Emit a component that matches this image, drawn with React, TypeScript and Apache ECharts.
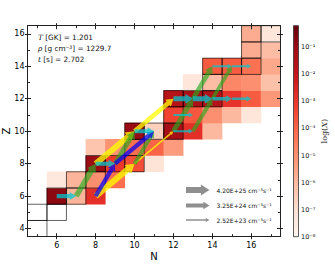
import React, { useEffect, useRef } from 'react';
import * as echarts from 'echarts';

// ---- data ----
// log10 of mass fraction X for each nucleus: [N, Z, log10 X]
const abundances: [number, number, number][] = [
  [6, 6, -0.8], [7, 6, -5.9], [8, 6, -2.8],
  [6, 7, -7.4], [7, 7, -5.9], [8, 7, -5.0], [9, 7, -4.2],
  [8, 8, -1.0], [9, 8, -3.0], [10, 8, -3.5], [11, 8, -7.2],
  [8, 9, -6.3], [9, 9, -5.1], [10, 9, -4.2], [11, 9, -4.0], [12, 9, -5.3],
  [10, 10, -1.0], [11, 10, -6.6], [12, 10, -1.2], [13, 10, -2.8], [14, 10, -6.0],
  [12, 11, -3.3], [13, 11, -3.7], [14, 11, -5.0], [15, 11, -6.0], [16, 11, -7.3],
  [12, 12, -1.6], [13, 12, -1.3], [14, 12, -1.5], [15, 12, -2.9], [16, 12, -3.8], [17, 12, -5.2],
  [13, 13, -7.3], [14, 13, -6.1], [15, 13, -4.8], [16, 13, -5.0], [17, 13, -6.2],
  [14, 14, -3.8], [15, 14, -3.8], [16, 14, -4.3], [17, 14, -5.6],
  [16, 15, -5.7], [17, 15, -6.1],
  [16, 16, -5.7], [17, 16, -7.3],
];

// stable nuclei [N, Z] (outlined)
const stableNuclei: [number, number][] = [
  [5, 4], [5, 5], [6, 5], [6, 6], [7, 6], [7, 7], [8, 7], [8, 8], [9, 8], [10, 8],
  [10, 9], [10, 10], [11, 10], [12, 10], [12, 11], [12, 12], [13, 12], [14, 12],
  [14, 13], [14, 14], [15, 14], [16, 14], [16, 15], [16, 16], [17, 16],
];

// reaction flows [N1, Z1, N2, Z2, flow (cm^-3 s^-1)]
const alphaGammaFlows: number[][] = [
  [8, 6, 10, 8, 4.0e25], [8, 8, 10, 10, 3.8e25], [10, 10, 12, 12, 7.5e24], [10, 8, 12, 10, 2.6e23],
];
const alphaNFlows: number[][] = [
  [7, 6, 8, 8, 2.2e25], [9, 8, 10, 10, 1.3e25], [10, 8, 11, 10, 4.3e24],
  [12, 10, 13, 12, 1.3e25], [13, 12, 14, 14, 7.5e24], [13, 10, 14, 12, 4.3e24], [14, 12, 15, 14, 2.5e24],
];
const blueFlows: number[][] = [
  [8, 6, 9, 8, 6.0e24], [9, 8, 11, 10, 6.0e24],
];
const nGammaFlows: number[][] = [
  [6, 6, 7, 6, 4.3e24], [8, 8, 9, 8, 4.3e24], [10, 10, 11, 10, 4.3e24],
  [12, 12, 13, 12, 1.3e25], [13, 12, 14, 12, 1.3e25], [14, 12, 15, 12, 2.5e24], [15, 12, 16, 12, 7.8e23],
  [14, 14, 15, 14, 4.4e23], [15, 14, 16, 14, 4.4e23], [12, 11, 13, 11, 4.4e23], [12, 10, 13, 10, 4.4e23],
];
const legendFlows = [4.2e25, 3.25e24, 2.52e23];

const temperatureGK = '1.201';
const densityGcm3 = '1229.7';
const timeS = '2.702';

const xMajorTicks = [6, 8, 10, 12, 14, 16];
const xMinorTicks = [5, 7, 9, 11, 13, 15, 17];
const yMajorTicks = [4, 6, 8, 10, 12, 14, 16];
const yMinorTicks = [5, 7, 9, 11, 13, 15];
const colorbarTicks = [-8, -7, -6, -5, -4, -3, -2, -1];

const REDS = ['#fff5f0', '#fee0d2', '#fcbba1', '#fc9272', '#fb6a4a', '#ef3b2c', '#cb181d', '#a50f15', '#67000d'];
const LOG_MIN = -8;
const LOG_MAX = -0.2;

const SUP: Record<string, string> = { '-': '⁻', '0': '⁰', '1': '¹', '2': '²', '3': '³', '4': '⁴', '5': '⁵', '6': '⁶', '7': '⁷', '8': '⁸', '9': '⁹' };
const sup = (s: string) => s.split('').map((c) => SUP[c] || c).join('');

const flowWidth = (f: number) => Math.max(1, 1.5 + 2.03 * (Math.log10(f) - 23.4));

function arrowPoints(x1: number, y1: number, x2: number, y2: number, w: number) {
  const dx = x2 - x1, dy = y2 - y1;
  const L = Math.hypot(dx, dy) || 1;
  const ux = dx / L, uy = dy / L, nx = -uy, ny = ux;
  const hw = 1.6 * w + 1.5;
  const hl = Math.min(1.1 * w + 2, L * 0.6);
  const bx = x2 - ux * hl, by = y2 - uy * hl;
  const a = w / 2, b = hw / 2;
  return [
    [x1 + nx * a, y1 + ny * a], [bx + nx * a, by + ny * a], [bx + nx * b, by + ny * b],
    [x2, y2],
    [bx - nx * b, by - ny * b], [bx - nx * a, by - ny * a], [x1 - nx * a, y1 - ny * a],
  ];
}

const FONT = 'DejaVu Sans';
const AX = '#222';

function frameAxis(dim: 'x' | 'y', position: string, ticks: number[], inside: boolean, len: number, line: boolean, labels: boolean, extra: any = {}) {
  const min = dim === 'x' ? 4.5 : 3.5;
  const max = dim === 'x' ? 17.5 : 16.5;
  return {
    type: 'value', gridIndex: 0, position, min, max, z: 10,
    axisLine: { show: line, onZero: false, lineStyle: { color: AX, width: 1 } },
    axisTick: { show: true, inside, length: len, customValues: ticks, lineStyle: { color: AX, width: 1 } },
    axisLabel: labels
      ? { show: true, customValues: ticks, color: '#000', fontSize: 8, fontFamily: FONT, margin: dim === 'x' ? 5 : 3 }
      : { show: false },
    splitLine: { show: false },
    ...extra,
  };
}

function flowSeries(data: number[][], color: string) {
  return {
    type: 'custom', xAxisIndex: 0, yAxisIndex: 0, clip: true, z: 5,
    data,
    renderItem: (params: any, api: any) => {
      const p1 = api.coord([api.value(0), api.value(1)]);
      const p2 = api.coord([api.value(2), api.value(3)]);
      const w = flowWidth(api.value(4));
      return { type: 'polygon', shape: { points: arrowPoints(p1[0], p1[1], p2[0], p2[1], w) }, style: { fill: color } };
    },
  };
}

export default function App() {
  const ref = useRef<HTMLDivElement>(null);
  useEffect(() => {
    if (!ref.current) return;
    const chart = echarts.init(ref.current, undefined, { renderer: 'svg' });

    const legendY = [190, 205.5, 220];
    const legendGraphics: any[] = [];
    legendFlows.forEach((f, i) => {
      legendGraphics.push({
        type: 'polygon', z: 20,
        shape: { points: arrowPoints(186, legendY[i], 209.5, legendY[i], flowWidth(f)) },
        style: { fill: 'rgba(100,100,100,0.72)' },
      });
      const [m, e] = f.toExponential(2).toUpperCase().split('E');
      legendGraphics.push({
        type: 'text', z: 20, x: 216.5, y: legendY[i],
        style: {
          text: `${m}E${e} cm${sup('-3')}s${sup('-1')}`,
          fontSize: 6, fontFamily: FONT, fill: '#111', verticalAlign: 'middle', align: 'left',
        },
      });
    });

    const infoLines = [
      `{i|T}{n| [GK] = ${temperatureGK}}`,
      `{i|ρ}{n| [g cm${sup('-3')}] = ${densityGcm3}}`,
      `{i|t}{n| [s] = ${timeS}}`,
    ];
    const infoY = [37, 48.5, 59.5];
    const infoGraphics = infoLines.map((t, i) => ({
      type: 'text', z: 20, x: 38, y: infoY[i],
      style: {
        text: t, fontSize: 7.3, fontFamily: FONT, fill: '#111', verticalAlign: 'middle', align: 'left',
        rich: {
          i: { fontStyle: 'italic', fontFamily: 'DejaVu Serif', fontSize: 7.3, fill: '#111' },
          n: { fontFamily: FONT, fontSize: 7.3, fill: '#111' },
        },
      },
    }));

    const option: any = {
      animation: false,
      backgroundColor: '#fff',
      grid: [
        { left: 27.5, top: 25.7, width: 253, height: 211, containLabel: false, outerBoundsMode: 'none' },
        { left: 293.5, top: 25.7, width: 5, height: 211, containLabel: false, outerBoundsMode: 'none' },
      ],
      xAxis: [
        frameAxis('x', 'bottom', xMajorTicks, true, 3.5, true, true, {
          name: 'N', nameLocation: 'middle', nameGap: 14.5, nameMoveOverlap: false,
          nameTextStyle: { fontSize: 10, fontFamily: FONT, color: '#000' },
        }),
        frameAxis('x', 'bottom', xMajorTicks, false, 2.5, false, false),
        frameAxis('x', 'bottom', xMinorTicks, true, 2.5, false, false),
        frameAxis('x', 'top', xMajorTicks, true, 3.5, true, false),
        frameAxis('x', 'top', xMajorTicks, false, 2.5, false, false),
        frameAxis('x', 'top', xMinorTicks, true, 2.5, false, false),
        { type: 'value', gridIndex: 1, min: 0, max: 1, show: false },
      ],
      yAxis: [
        frameAxis('y', 'left', yMajorTicks, true, 3.5, true, true, {
          name: 'Z', nameLocation: 'middle', nameGap: 16, nameRotate: 90, nameMoveOverlap: false,
          nameTextStyle: { fontSize: 10, fontFamily: FONT, color: '#000' },
        }),
        frameAxis('y', 'left', yMajorTicks, false, 2.5, false, false),
        frameAxis('y', 'left', yMinorTicks, true, 2.5, false, false),
        frameAxis('y', 'right', yMajorTicks, true, 3.5, true, false),
        frameAxis('y', 'right', yMajorTicks, false, 2.5, false, false),
        frameAxis('y', 'right', yMinorTicks, true, 2.5, false, false),
        {
          type: 'value', gridIndex: 1, position: 'right', min: LOG_MIN, max: LOG_MAX,
          axisLine: { show: false },
          axisTick: { show: true, inside: false, length: 2, customValues: colorbarTicks, lineStyle: { color: AX, width: 0.8 } },
          axisLabel: {
            show: true, customValues: colorbarTicks, margin: 2.5, fontSize: 6.5, fontFamily: FONT, color: '#111',
            formatter: (v: number) => '10' + sup(String(Math.round(v))),
          },
          splitLine: { show: false },
          name: '{r|log(}{i|X}{r|)}', nameLocation: 'middle', nameRotate: 90, nameGap: 22, nameMoveOverlap: false,
          nameTextStyle: {
            rich: {
              r: { fontSize: 8, fontFamily: 'DejaVu Serif', color: '#111' },
              i: { fontSize: 8, fontFamily: 'DejaVu Serif', fontStyle: 'italic', color: '#111' },
            },
          },
        },
      ],
      visualMap: {
        type: 'continuous', show: false, seriesIndex: 0, dimension: 2,
        min: LOG_MIN, max: LOG_MAX, inRange: { color: REDS },
      },
      series: [
        {
          type: 'custom', xAxisIndex: 0, yAxisIndex: 0, clip: true, z: 2,
          data: abundances,
          encode: { x: 0, y: 1 },
          renderItem: (params: any, api: any) => {
            const c = api.coord([api.value(0), api.value(1)]);
            const s = api.size([1, 1]);
            return {
              type: 'rect',
              shape: { x: c[0] - s[0] / 2 - 0.25, y: c[1] - s[1] / 2 - 0.25, width: s[0] + 0.5, height: s[1] + 0.5 },
              style: { fill: api.visual('color') },
            };
          },
        },
        {
          type: 'custom', xAxisIndex: 0, yAxisIndex: 0, clip: true, z: 3,
          data: stableNuclei,
          encode: { x: 0, y: 1 },
          renderItem: (params: any, api: any) => {
            const c = api.coord([api.value(0), api.value(1)]);
            const s = api.size([1, 1]);
            return {
              type: 'rect',
              shape: { x: c[0] - s[0] / 2, y: c[1] - s[1] / 2, width: s[0], height: s[1] },
              style: { fill: 'none', stroke: 'rgba(0,0,0,0.62)', lineWidth: 1 },
            };
          },
        },
        flowSeries(alphaGammaFlows, 'rgba(255,255,0,0.75)'),
        flowSeries(alphaNFlows, 'rgba(40,170,30,0.65)'),
        flowSeries(blueFlows, 'rgba(0,0,250,0.72)'),
        flowSeries(nGammaFlows, 'rgba(0,200,210,0.75)'),
        {
          type: 'custom', xAxisIndex: 6, yAxisIndex: 6, clip: false, z: 2,
          data: [[0, LOG_MIN, 1, LOG_MAX]],
          renderItem: (params: any, api: any) => {
            const a = api.coord([api.value(0), api.value(1)]);
            const b = api.coord([api.value(2), api.value(3)]);
            return {
              type: 'rect',
              shape: { x: Math.min(a[0], b[0]), y: Math.min(a[1], b[1]), width: Math.abs(b[0] - a[0]), height: Math.abs(b[1] - a[1]) },
              style: {
                fill: new echarts.graphic.LinearGradient(0, 1, 0, 0, REDS.map((c, i) => ({ offset: i / (REDS.length - 1), color: c }))),
                stroke: '#333', lineWidth: 0.8,
              },
            };
          },
        },
      ],
      graphic: [...infoGraphics, ...legendGraphics],
    };
    chart.setOption(option);
    return () => chart.dispose();
  }, []);
  return <div ref={ref} style={{ position: 'fixed', left: 0, top: 0, width: 335, height: 264, background: '#fff' }} />;
}
